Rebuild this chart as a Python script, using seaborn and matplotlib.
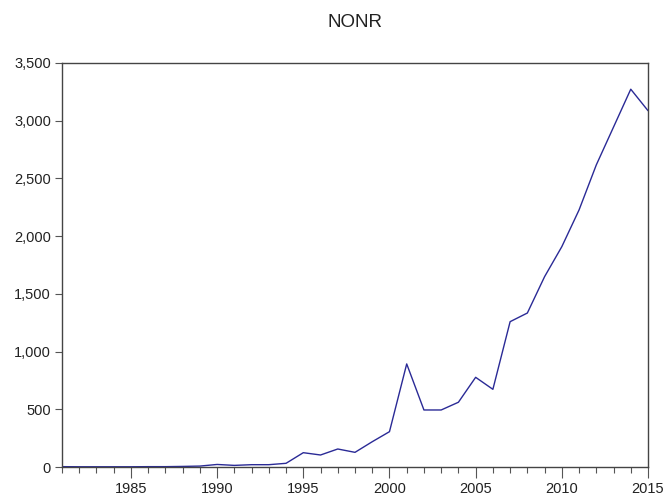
import numpy as np
import pandas as pd
import matplotlib
matplotlib.use("Agg")
import matplotlib.pyplot as plt
import seaborn as sns
from matplotlib.ticker import FuncFormatter, MultipleLocator

years = list(range(1981, 2016))
nonr = [3, 2, 2, 2, 2, 3, 3, 5, 8, 22, 14, 20, 20, 32, 124, 104, 156, 127, 219, 306,
        893, 494, 494, 561, 777, 673, 1259, 1334, 1649, 1909, 2227, 2617, 2945, 3273, 3087]

df = pd.DataFrame({"year": years, "NONR": nonr})

sns.set_style("white")
plt.rcParams["font.family"] = ["Liberation Sans", "DejaVu Sans"]

fig = plt.figure(figsize=(6.68, 4.98), dpi=100)
ax = fig.add_axes([62 / 668, 31 / 498, 586 / 668, 404 / 498])
sns.lineplot(data=df, x="year", y="NONR", ax=ax, color="#2a2a96", linewidth=1.0)

ax.set_xlim(1981, 2015)
ax.set_ylim(0, 3500)
ax.xaxis.set_major_locator(MultipleLocator(5))
ax.xaxis.set_minor_locator(MultipleLocator(1))
ax.yaxis.set_major_locator(MultipleLocator(500))
ax.yaxis.set_major_formatter(FuncFormatter(lambda v, p: f"{int(v):,}"))
ax.tick_params(axis="x", which="major", length=8, width=0.8, color="#555555",
               labelsize=10.5, pad=3, labelcolor="#222222", direction="out", bottom=True)
ax.tick_params(axis="x", which="minor", length=4, width=0.8, color="#555555",
               direction="out", bottom=True)
ax.tick_params(axis="y", length=5, width=0.8, color="#555555", labelsize=10.5,
               labelcolor="#222222", direction="out", left=True, pad=3)
for s in ax.spines.values():
    s.set_color("#444444")
    s.set_linewidth(1.0)
ax.set_xlabel("")
ax.set_ylabel("")
ax.set_title("NONR", fontsize=13.5, color="#222222", pad=26)

fig.savefig("out.png", dpi=100)
